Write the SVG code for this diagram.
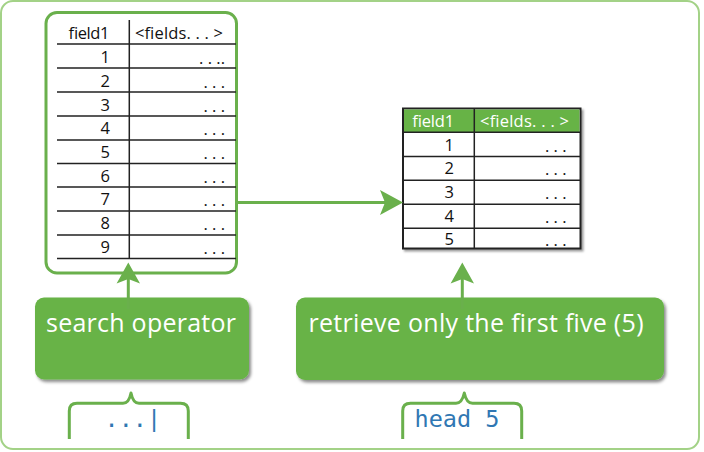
<svg xmlns="http://www.w3.org/2000/svg" width="704" height="452" viewBox="0 0 704 452">
<defs>
<filter id="sh" x="-5%" y="-5%" width="115%" height="120%">
<feDropShadow dx="2" dy="2.5" stdDeviation="1.5" flood-color="#000" flood-opacity="0.45"/>
</filter>
<filter id="sh2" x="-5%" y="-5%" width="115%" height="120%">
<feDropShadow dx="2" dy="2" stdDeviation="1.2" flood-color="#000" flood-opacity="0.4"/>
</filter>
</defs>
<style>
.frame{fill:#fff;stroke:#a3d287;stroke-width:2}
.tbox{fill:#fff;stroke:#6ab04c;stroke-width:3}
.ln{stroke:#222;stroke-width:1.5;fill:none}
.t{font-family:"Open Sans","Liberation Sans",sans-serif;font-size:16.5px;fill:#111}
.th{font-family:"Open Sans","Liberation Sans",sans-serif;font-size:16.5px;fill:#fff}
.num{text-anchor:end}
.op{fill:#67b346}
.opt{font-family:"Open Sans","Liberation Sans",sans-serif;font-size:25px;fill:#fff}
.conn{stroke:#6ab04c;stroke-width:3;fill:none}
.head{fill:#6ab04c}
.brace{stroke:#6ab04c;stroke-width:3;fill:none;stroke-linejoin:round}
.code{font-family:"DejaVu Sans Mono","Liberation Mono",monospace;font-size:23.5px;fill:#3077b3}
</style>
<rect class="frame" x="1" y="1" width="698" height="448" rx="12"/>

<g id="input-table">
<rect class="tbox" x="46" y="12.5" width="190.5" height="260.5" rx="11"/>
<path class="ln" d="M57 44H236M57 68H236M57 92H236M57 116H236M57 140H236M57 163.5H236M57 187H236M57 211H236M57 235H236M57 258.5H236M129.3 20V258.5"/>
<text class="t" x="68" y="39.3" textLength="41">field1</text>
<text class="t" x="135" y="39.3" textLength="88">&lt;fields. . . &gt;</text>
<text class="t num" x="110" y="63.3">1</text>
<text class="t num" x="110" y="87">2</text>
<text class="t num" x="110" y="110.5">3</text>
<text class="t num" x="110" y="134.2">4</text>
<text class="t num" x="110" y="158">5</text>
<text class="t num" x="110" y="181.5">6</text>
<text class="t num" x="110" y="205">7</text>
<text class="t num" x="110" y="229">8</text>
<text class="t num" x="110" y="252.5">9</text>
<text class="t num" x="225" y="64.3">. . ..</text>
<text class="t num" x="225" y="88">. . .</text>
<text class="t num" x="225" y="111.5">. . .</text>
<text class="t num" x="225" y="135.2">. . .</text>
<text class="t num" x="225" y="159">. . .</text>
<text class="t num" x="225" y="182.5">. . .</text>
<text class="t num" x="225" y="206">. . .</text>
<text class="t num" x="225" y="230">. . .</text>
<text class="t num" x="225" y="253.5">. . .</text>
</g>

<g id="output-table">
<g filter="url(#sh2)">
<rect x="403" y="108.5" width="177.5" height="140" fill="#fff" stroke="#222" stroke-width="2"/>
</g>
<rect x="404" y="109.5" width="175.5" height="22.8" fill="#67b346"/>
<path class="ln" d="M403 132.3H580.5M403 156.5H580.5M403 180.3H580.5M403 204.3H580.5M403 228.3H580.5M474.3 108.5V248.5"/>
<text class="th" x="412" y="126.5" textLength="42">field1</text>
<text class="th" x="480" y="126.5" textLength="89">&lt;fields. . . &gt;</text>
<text class="t num" x="454" y="150.5">1</text>
<text class="t num" x="454" y="174.3">2</text>
<text class="t num" x="454" y="198.3">3</text>
<text class="t num" x="454" y="222.3">4</text>
<text class="t num" x="454" y="245.3">5</text>
<text class="t num" x="566.5" y="151.5">. . .</text>
<text class="t num" x="566.5" y="175.3">. . .</text>
<text class="t num" x="566.5" y="199.3">. . .</text>
<text class="t num" x="566.5" y="223.3">. . .</text>
<text class="t num" x="566.5" y="246.3">. . .</text>
</g>

<g id="search-operator">
<rect class="op" x="35" y="297.5" width="214" height="82" rx="9" filter="url(#sh)"/>
<text class="opt" x="46" y="331.7" textLength="190">search operator</text>
</g>

<g id="head-operator">
<rect class="op" x="296" y="297.5" width="368" height="82.5" rx="9" filter="url(#sh)"/>
<text class="opt" x="308.5" y="331.7" textLength="335">retrieve only the first five (5)</text>
</g>

<g id="search-code">
<path class="brace" d="M69.3 439V411Q69.3 403.3 77 403.3H123Q129 403.3 131 393Q133 403.3 139 403.3H180.5Q188.3 403.3 188.3 411V439"/>
<text class="code" x="104.5" y="426.7">...|</text>
</g>

<g id="head-code">
<path class="brace" d="M402.7 439V411Q402.7 403.3 410.5 403.3H456Q462 403.3 464.3 393Q466.5 403.3 472.5 403.3H514Q521.7 403.3 521.7 411V439"/>
<text class="code" x="414.5" y="426.7">head 5</text>
</g>

<g id="connectors">
<path class="conn" d="M236 202.5H388"/>
<path class="head" d="M403 202.5L380 190L385 202.5L380 215Z"/>
<path class="conn" d="M128.3 309V278"/>
<path class="head" d="M128.3 262.5L116.6 283.5L128.3 279L140 283.5Z"/>
<path class="conn" d="M462.3 309V278"/>
<path class="head" d="M462.3 262.5L450.6 283.5L462.3 279L474 283.5Z"/>
</g>
</svg>
